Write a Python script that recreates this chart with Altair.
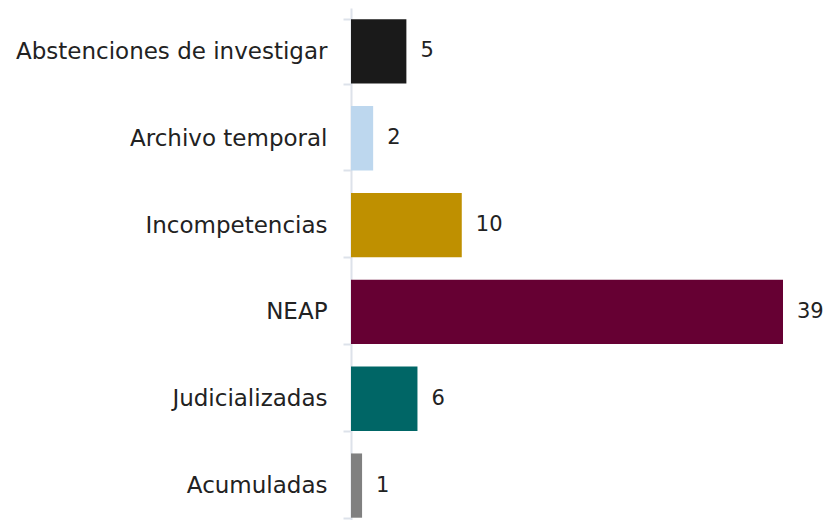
import altair as alt
import pandas as pd

categorias = ["Abstenciones de investigar", "Archivo temporal", "Incompetencias",
              "NEAP", "Judicializadas", "Acumuladas"]
valores = [5, 2, 10, 39, 6, 1]
colores = ["#1a1a1a", "#bdd7ee", "#bf9000", "#660033", "#006666", "#808080"]

df = pd.DataFrame({"categoria": categorias, "valor": valores})

FONT = "DejaVu Sans"

y = alt.Y(
    "categoria:N",
    sort=categorias,
    scale=alt.Scale(paddingInner=0.26, paddingOuter=0.13, range=[0, 521]),
    axis=alt.Axis(
        title=None,
        labelFont=FONT,
        labelFontSize=23,
        labelColor="#222222",
        labelPadding=16,
        labelLimit=0,
        ticks=True,
        tickSize=8,
        tickColor="#dde2ea",
        tickWidth=2,
        domainColor="#dde2ea",
        domainWidth=2,
        tickBand="extent",
        grid=False,
    ),
)
x = alt.X("valor:Q", axis=None, scale=alt.Scale(domain=[0, 39], nice=False))

bars = alt.Chart(df).mark_bar().encode(
    x=x,
    y=y,
    color=alt.Color("categoria:N", scale=alt.Scale(domain=categorias, range=colores), legend=None),
)

labels = alt.Chart(df).mark_text(
    align="left", baseline="middle", dx=14, font=FONT, fontSize=21, color="#222222"
).encode(x=x, y=y, text="valor:Q")

chart = (bars + labels).properties(
    width=432,
    height=512,
    autosize=alt.AutoSizeParams(type="none"),
    padding={"left": 343, "top": 0, "right": 42, "bottom": 0},
).configure_view(stroke=None)

chart.save("out.html", embed_options={"renderer": "svg", "actions": False})
